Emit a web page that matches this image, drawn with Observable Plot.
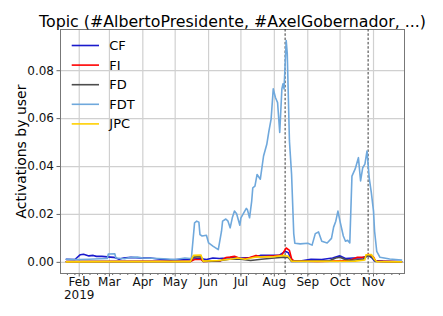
<!DOCTYPE html>
<html><head><meta charset="utf-8">
<script src="https://cdn.jsdelivr.net/npm/d3@7"></script>
<script src="https://cdn.jsdelivr.net/npm/@observablehq/plot@0.6"></script>
<style>html,body{margin:0;padding:0;background:#fff;} #chart{width:443px;height:316px;}</style>
</head><body><div id="chart"></div>
<script>
const title = "Topic (#AlbertoPresidente, #AxelGobernador, ...)";
const yLabel = "Activations by user";
const seriesNames = ["CF", "FI", "FD", "FDT", "JPC"];
const seriesColors = ["#1a1acc", "#ff0000", "#4d4d4d", "#6fa8dc", "#ffd000"];

const CF = [["2019-01-20",0.0013],["2019-01-28",0.0012],["2019-02-02",0.0032],["2019-02-05",0.0034],["2019-02-10",0.0027],["2019-02-14",0.0029],["2019-02-17",0.0025],["2019-02-22",0.0025],["2019-02-27",0.0023],["2019-03-05",0.0021],["2019-03-10",0.0013],["2019-03-14",0.0018],["2019-03-21",0.0021],["2019-03-30",0.0018],["2019-04-08",0.0018],["2019-04-17",0.0013],["2019-04-26",0.0011],["2019-05-05",0.0012],["2019-05-15",0.0013],["2019-05-24",0.0016],["2019-05-30",0.0012],["2019-06-05",0.0018],["2019-06-11",0.0016],["2019-06-17",0.0018],["2019-06-23",0.0021],["2019-07-01",0.0018],["2019-07-10",0.0020],["2019-07-19",0.0029],["2019-07-28",0.0029],["2019-08-06",0.0031],["2019-08-11",0.0046],["2019-08-14",0.0040],["2019-08-17",0.0008],["2019-08-25",0.0005],["2019-09-04",0.0013],["2019-09-14",0.0012],["2019-09-24",0.0018],["2019-09-30",0.0027],["2019-10-02",0.0025],["2019-10-06",0.0016],["2019-10-13",0.0018],["2019-10-21",0.0018],["2019-10-27",0.0029],["2019-10-30",0.0021],["2019-11-02",0.0006],["2019-11-10",0.0004],["2019-11-27",0.0003]];

const FI = [["2019-01-20",0.0003],["2019-04-01",0.0004],["2019-05-15",0.0004],["2019-05-19",0.0012],["2019-05-25",0.0012],["2019-05-27",0.0004],["2019-06-12",0.0006],["2019-06-17",0.0020],["2019-06-21",0.0022],["2019-06-25",0.0025],["2019-07-01",0.0015],["2019-07-08",0.0018],["2019-07-15",0.0029],["2019-07-19",0.0023],["2019-08-01",0.0027],["2019-08-08",0.0031],["2019-08-12",0.0060],["2019-08-15",0.0050],["2019-08-17",0.0015],["2019-08-19",0.0006],["2019-09-10",0.0004],["2019-10-05",0.0006],["2019-10-12",0.0012],["2019-10-17",0.0021],["2019-10-24",0.0021],["2019-10-27",0.0034],["2019-11-01",0.0022],["2019-11-03",0.0005],["2019-11-27",0.0002]];

const FD = [["2019-01-20",0.0003],["2019-05-15",0.0003],["2019-05-18",0.0022],["2019-05-25",0.0024],["2019-05-27",0.0004],["2019-06-10",0.0006],["2019-06-20",0.0013],["2019-07-01",0.0013],["2019-07-10",0.0008],["2019-07-20",0.0013],["2019-08-01",0.0018],["2019-08-10",0.0022],["2019-08-14",0.0020],["2019-08-17",0.0004],["2019-09-20",0.0005],["2019-09-27",0.0018],["2019-10-01",0.0021],["2019-10-05",0.0013],["2019-10-10",0.0009],["2019-10-22",0.0012],["2019-10-27",0.0029],["2019-10-31",0.0020],["2019-11-03",0.0004],["2019-11-27",0.0002]];

const FDT = [["2019-01-20",0.0013],["2019-01-25",0.0012],["2019-02-01",0.0012],["2019-02-10",0.0013],["2019-02-20",0.0015],["2019-02-27",0.0016],["2019-02-28",0.0035],["2019-03-06",0.0036],["2019-03-07",0.0018],["2019-03-15",0.0015],["2019-03-20",0.0020],["2019-03-27",0.0022],["2019-04-01",0.0018],["2019-04-10",0.0017],["2019-04-20",0.0015],["2019-05-01",0.0012],["2019-05-10",0.0018],["2019-05-15",0.0016],["2019-05-16",0.0015],["2019-05-19",0.0165],["2019-05-21",0.0172],["2019-05-23",0.0168],["2019-05-24",0.0116],["2019-05-26",0.0110],["2019-05-30",0.0113],["2019-06-01",0.0081],["2019-06-05",0.0068],["2019-06-10",0.0053],["2019-06-13",0.0130],["2019-06-14",0.0172],["2019-06-17",0.0181],["2019-06-19",0.0172],["2019-06-21",0.0144],["2019-06-23",0.0186],["2019-06-25",0.0214],["2019-06-27",0.0203],["2019-06-30",0.0155],["2019-07-01",0.0186],["2019-07-06",0.0225],["2019-07-07",0.0220],["2019-07-09",0.0186],["2019-07-11",0.0256],["2019-07-12",0.0311],["2019-07-14",0.0318],["2019-07-16",0.0367],["2019-07-19",0.0347],["2019-07-22",0.0444],["2019-07-25",0.0493],["2019-07-27",0.0549],["2019-07-29",0.0598],["2019-07-31",0.0724],["2019-08-02",0.0688],["2019-08-04",0.0667],["2019-08-06",0.0542],["2019-08-08",0.0724],["2019-08-09",0.0745],["2019-08-10",0.0724],["2019-08-12",0.0926],["2019-08-13",0.0870],["2019-08-15",0.0507],["2019-08-17",0.0367],["2019-08-19",0.0120],["2019-08-20",0.0080],["2019-08-25",0.0077],["2019-09-01",0.0080],["2019-09-05",0.0072],["2019-09-08",0.0120],["2019-09-11",0.0127],["2019-09-14",0.0088],["2019-09-19",0.0081],["2019-09-23",0.0100],["2019-09-25",0.0147],["2019-09-27",0.0172],["2019-09-29",0.0214],["2019-10-01",0.0170],["2019-10-04",0.0110],["2019-10-06",0.0088],["2019-10-08",0.0092],["2019-10-10",0.0081],["2019-10-12",0.0360],["2019-10-15",0.0390],["2019-10-18",0.0437],["2019-10-20",0.0340],["2019-10-22",0.0395],["2019-10-24",0.0410],["2019-10-26",0.0465],["2019-10-28",0.0353],["2019-10-30",0.0290],["2019-11-01",0.0214],["2019-11-02",0.0130],["2019-11-04",0.0046],["2019-11-07",0.0021],["2019-11-16",0.0014],["2019-11-27",0.0010]];

const JPC = [["2019-01-20",0.0002],["2019-03-01",0.0003],["2019-05-15",0.0003],["2019-05-18",0.0029],["2019-05-25",0.0030],["2019-05-27",0.0005],["2019-06-10",0.0008],["2019-06-21",0.0013],["2019-06-28",0.0018],["2019-07-05",0.0013],["2019-07-15",0.0022],["2019-08-01",0.0024],["2019-08-10",0.0029],["2019-08-14",0.0025],["2019-08-17",0.0005],["2019-09-15",0.0004],["2019-10-15",0.0005],["2019-10-24",0.0010],["2019-10-25",0.0032],["2019-10-30",0.0033],["2019-11-02",0.0012],["2019-11-04",0.0003],["2019-11-27",0.0002]];

const events = ["2019-08-11", "2019-10-27"];
const monthTicks = ["2019-02-01","2019-03-01","2019-04-01","2019-05-01","2019-06-01","2019-07-01","2019-08-01","2019-09-01","2019-10-01","2019-11-01"];
const monthLabels = ["Feb","Mar","Apr","May","Jun","Jul","Aug","Sep","Oct","Nov"];
const yearTick = ["2019-02-01"];
const yearLabel = "2019";
const yTicks = [0, 0.02, 0.04, 0.06, 0.08];
const xRange = ["2019-01-14T15:00:00Z", "2019-11-29T18:00:00Z"];
const yRange = [-0.00465, 0.0972];

const toDate = s => new Date(s.length <= 10 ? s + "T00:00:00Z" : s);
const seriesData = [CF, FI, FD, FDT, JPC];
const rows = seriesData.flatMap((s, i) => s.map(([d, v]) => ({series: seriesNames[i], date: toDate(d), value: v})));
const monthDates = monthTicks.map(toDate);
const labelMap = new Map(monthDates.map((d, i) => [+d, monthLabels[i]]));
const minorTicks = d3.utcMonday.range(toDate(xRange[0]), toDate(xRange[1]));

const marks = [
  Plot.gridX(monthDates, {stroke: "#d0d0d0", strokeOpacity: 1, strokeWidth: 1.2}),
  Plot.gridY(yTicks, {stroke: "#d0d0d0", strokeOpacity: 1, strokeWidth: 1.2}),
  Plot.axisX(minorTicks, {tickSize: 2, text: null, stroke: "#666", label: null}),
  Plot.axisX(monthDates, {tickSize: 3.5, tickPadding: 0, stroke: "#666", fill: "#111", fontSize: 12, label: null, tickFormat: d => labelMap.get(+d)}),
  Plot.axisX(yearTick.map(toDate), {tickSize: 0, tickPadding: 16.8, fill: "#111", fontSize: 12, label: null, tickFormat: () => yearLabel}),
  Plot.axisY(yTicks, {tickSize: 3.5, tickPadding: 3, stroke: "#666", fill: "#111", fontSize: 12, label: null, tickFormat: d3.format(".2f")}),
  Plot.frame({stroke: "#777"}),
  Plot.ruleX(events.map(toDate), {stroke: "#222", strokeWidth: 0.9, strokeDasharray: "2.5,1.8"}),
  ...seriesNames.map((name, i) => Plot.line(rows.filter(r => r.series === name), {x: "date", y: "value", stroke: seriesColors[i], strokeWidth: 1.6})),
  Plot.text([title], {frameAnchor: "top", lineAnchor: "bottom", dy: -2.5, fontSize: 15.8, fill: "#000"}),
  Plot.text([yLabel], {frameAnchor: "left", rotate: -90, dx: -38.5, fontSize: 14, fill: "#000", textAnchor: "middle", lineAnchor: "middle"})
];

const chart = Plot.plot({
  width: 443, height: 316,
  marginLeft: 60, marginRight: 39, marginTop: 29, marginBottom: 43,
  style: {fontFamily: "DejaVu Sans", fontSize: "12px", background: "#fff", overflow: "visible"},
  x: {type: "utc", domain: xRange.map(toDate)},
  y: {domain: yRange},
  marks
});

// legend (matplotlib-style, upper left inside axes)
const svg = d3.select(chart);
const lg = svg.append("g").attr("font-family", "DejaVu Sans").attr("font-size", 13).attr("text-anchor", "start");
seriesNames.forEach((name, i) => {
  const y = 45.5 + i * 19.6;
  lg.append("line").attr("x1", 71.7).attr("x2", 99).attr("y1", y).attr("y2", y)
    .attr("stroke", seriesColors[i]).attr("stroke-width", 1.6);
  lg.append("text").attr("x", 109.3).attr("y", y).attr("dy", "0.35em").attr("fill", "#000").attr("text-anchor", "start").text(name);
});

document.getElementById("chart").appendChild(chart);
</script>
</body></html>
